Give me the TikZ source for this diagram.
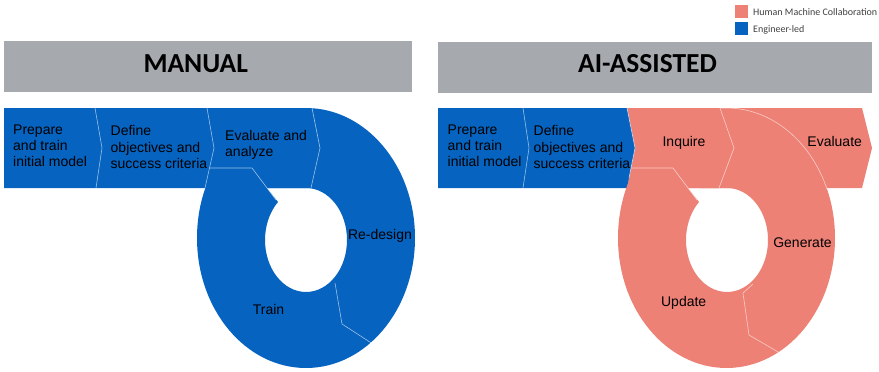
\documentclass[tikz,border=0pt]{standalone}
\usepackage{fontspec}
\setmainfont{Liberation Sans}
\newfontfamily\hdrfont{Carlito}
\definecolor{eblue}{RGB}{6,99,192}
\definecolor{hpink}{RGB}{238,129,118}
\definecolor{hdrgray}{RGB}{166,169,174}
\begin{document}
\begin{tikzpicture}[x=1pt,y=-1pt,
  sep/.style={draw=white, draw opacity=0.6, line width=0.6pt, line join=round},
  body/.style={font=\fontsize{14}{16.3}\selectfont, text=black, inner sep=0pt},
  lbl/.style={body, align=left, anchor=base west},
  ctr/.style={body, anchor=base},
  hdr/.style={font=\hdrfont\bfseries\fontsize{27.5}{30}\selectfont, anchor=base, inner sep=0pt},
  leg/.style={font=\hdrfont\fontsize{10}{12}\selectfont, text=black!75, anchor=base west, inner sep=0pt}]
\useasboundingbox (0,0) rectangle (879,372);

% legend
\fill[hpink] (735,5) rectangle (748,18);
\node[leg] (lg1) at (753,15.5) {Human Machine Collaboration};
\fill[eblue] (735,22) rectangle (748,35);
\node[leg] (lg2) at (753,32.5) {Engineer-led};

% ---------------- MANUAL ----------------
\fill[hdrgray] (4,41) rectangle (412,92);
\node[hdr] (mh) at (195.7,72) {MANUAL};

\fill[eblue] (4,108) -- (312,108) -- (320,148) -- (311,188) -- (4,188) -- cycle;
\fill[eblue, even odd rule] (306,238) ellipse [x radius=109, y radius=130]
  (267,188) -- (306,188) arc[start angle=-90, end angle=227, x radius=41, y radius=52] -- cycle;

\draw[sep] (95,108) -- (102,148) -- (96,188);
\draw[sep] (207,108) -- (214,148) -- (205,188);
\draw[sep] (210,168) -- (252,168) -- (276,200);
\draw[sep] (312,108) -- (320,148) -- (311,188);
\draw[sep] (335,283) -- (342,324) -- (376,346);

\node[lbl] (m1) at (13,166.7) {Prepare\\and train\\initial model};
\node[lbl] (m2) at (110.5,168.3) {Define\\objectives and\\success criteria};
\node[lbl] (m3) at (225,156.5) {Evaluate and\\analyze};
\node[ctr] (m4) at (380,239) {Re-design};
\node[ctr] (m5) at (268.5,314) {Train};

% ---------------- AI-ASSISTED ----------------
\fill[hdrgray] (438,42) rectangle (872,93);
\node[hdr] (ah) at (647.5,72) {AI-ASSISTED};

\fill[hpink] (700,108) -- (862,108) -- (872,148) -- (862,188) -- (700,188) -- cycle;
\fill[hpink] (627,108) -- (720,108) -- (734,148) -- (719,188) -- (627,188) -- (635,148) -- cycle;
\fill[eblue] (438,108) -- (627,108) -- (635,148) -- (627,188) -- (438,188) -- cycle;
\fill[hpink, even odd rule] (726.5,238) ellipse [x radius=108.5, y radius=130]
  (688,188) -- (727,188) arc[start angle=-90, end angle=227, x radius=41, y radius=52] -- cycle;

\draw[sep] (523,108) -- (529,148) -- (523,188);
\draw[sep] (627,108) -- (635,148) -- (629,178);
\draw[sep] (631,168) -- (673,168) -- (697,200);
\draw[sep] (720,108) -- (734,148) -- (719,188);
\draw[sep] (720.8,108.2) arc[start angle=-93, end angle=-22, x radius=108.5, y radius=130];
\draw[sep] (753,284) -- (743,293) -- (749,335) -- (785,356);

\node[lbl] (a1) at (447.5,166.7) {Prepare\\and train\\initial model};
\node[lbl] (a2) at (533.5,168.3) {Define\\objectives and\\success criteria};
\node[ctr] (a3) at (684,146.7) {Inquire};
\node[ctr] (a4) at (834.7,146.7) {Evaluate};
\node[ctr] (a5) at (802.5,247.3) {Generate};
\node[ctr] (a6) at (683.7,306.7) {Update};
\end{tikzpicture}
\end{document}
